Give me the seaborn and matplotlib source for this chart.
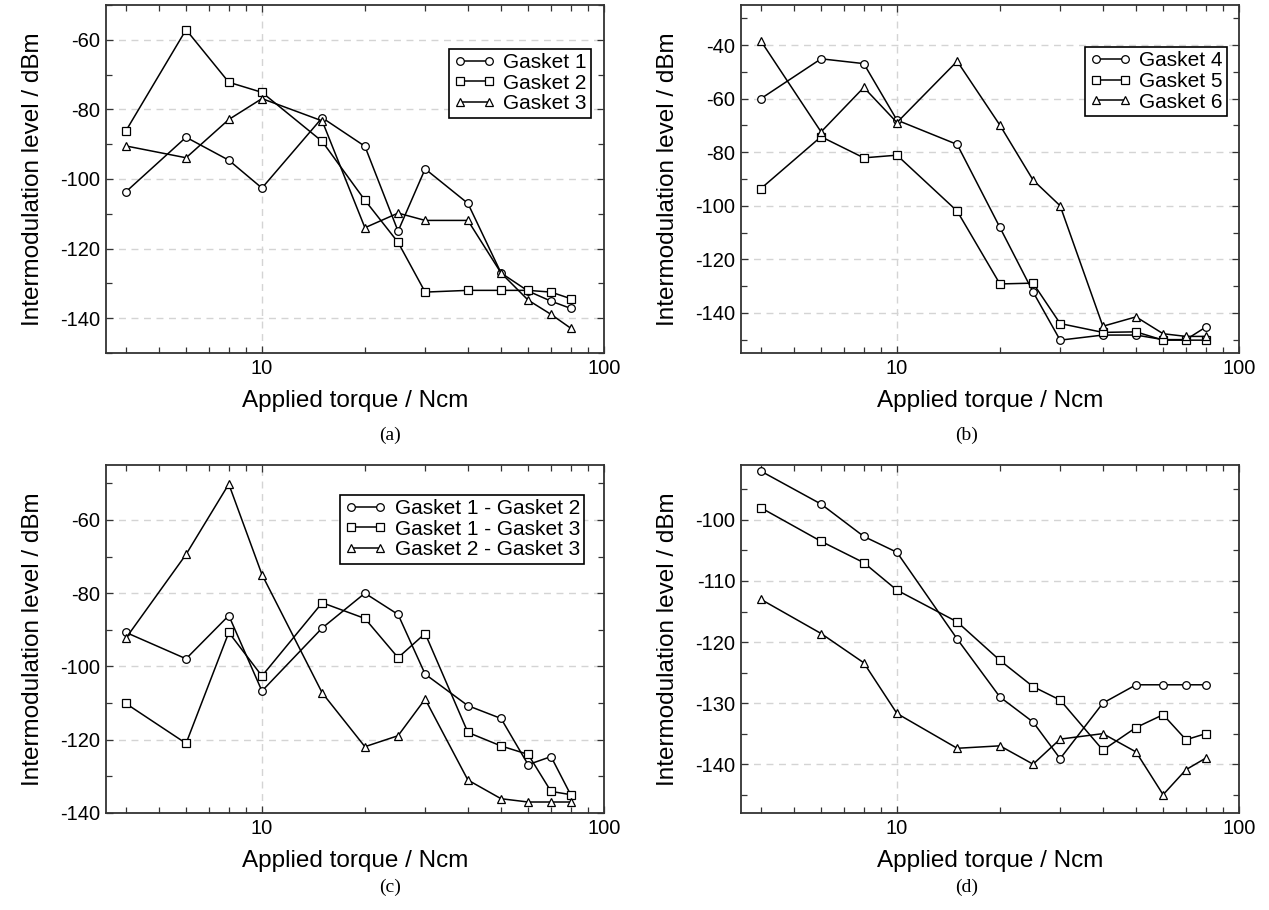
import numpy as np
import pandas as pd
import matplotlib
matplotlib.use('Agg')
import matplotlib.pyplot as plt
import seaborn as sns
from matplotlib.ticker import MultipleLocator, NullFormatter

# applied torque steps (Ncm)
torque = [4, 6, 8, 10, 15, 20, 25, 30, 40, 50, 60, 70, 80]

# (a) single gaskets 1-3
gasket1 = [-103.7, -88.0, -94.6, -102.6, -82.4, -90.6, -115.0, -97.1, -107.0, -127.0, -132.2, -135.1, -137.2]
gasket2 = [-86.2, -57.1, -72.2, -75.1, -89.2, -106.1, -118.2, -132.5, -132.0, -132.0, -132.0, -132.5, -134.4]
gasket3 = [-90.5, -93.9, -82.9, -76.9, -83.3, -114.0, -109.8, -111.9, -111.9, -127.0, -134.8, -138.9, -142.9]

# (b) single gaskets 4-6
gasket4 = [-60.0, -45.1, -46.9, -68.0, -77.1, -108.1, -132.2, -150.2, -148.3, -148.3, -150.0, -150.0, -145.3]
gasket5 = [-93.6, -74.2, -82.1, -81.1, -102.0, -129.2, -128.9, -144.0, -147.3, -147.1, -150.2, -150.2, -150.2]
gasket6 = [-38.4, -72.4, -55.8, -68.9, -46.0, -69.9, -90.4, -100.0, -145.0, -141.5, -147.8, -148.8, -148.8]

# (c) gasket pairs
pair12 = [-90.7, -97.9, -86.1, -106.7, -89.5, -80.0, -85.8, -102.1, -110.7, -114.2, -126.8, -124.6, -135.1]
pair13 = [-110.1, -121.0, -90.7, -102.6, -82.6, -86.9, -97.6, -91.0, -118.0, -121.7, -124.0, -134.1, -135.0]
pair23 = [-92.3, -69.4, -50.2, -74.9, -107.2, -121.9, -118.9, -108.9, -131.0, -136.1, -137.0, -137.0, -137.0]

# (d) no legend in the original
d_circle = [-92.0, -97.4, -102.7, -105.3, -119.5, -129.0, -133.1, -139.1, -130.0, -127.0, -127.0, -127.0, -127.0]
d_square = [-98.0, -103.5, -107.0, -111.5, -116.7, -123.0, -127.3, -129.5, -137.7, -134.0, -131.9, -136.0, -135.0]
d_triangle = [-113.0, -118.6, -123.4, -131.7, -137.4, -137.0, -140.0, -135.9, -135.0, -138.0, -145.0, -140.9, -139.0]

sns.set_style('ticks')
plt.rcParams['font.family'] = ['Liberation Sans', 'DejaVu Sans']
plt.rcParams['axes.unicode_minus'] = False
plt.rcParams['text.color'] = 'black'
plt.rcParams['axes.labelcolor'] = 'black'
plt.rcParams['xtick.labelcolor'] = 'black'
plt.rcParams['ytick.labelcolor'] = 'black'

fig = plt.figure(figsize=(12.69, 9.10), dpi=100)
W, H = 1269, 910


def make_axes(x0, x1, y0, y1):
    return fig.add_axes([x0 / W, 1 - y1 / H, (x1 - x0) / W, (y1 - y0) / H])


def draw_panel(ax, series, names, ylim, major, minor, anchor=None):
    df = pd.DataFrame({
        'torque': np.tile(torque, len(series)),
        'level': np.concatenate(series),
        'curve': np.repeat(names, len(torque)),
    })
    ax.set_xscale('log')
    sns.lineplot(data=df, x='torque', y='level', style='curve', style_order=names,
                 markers=['o', 's', '^'], dashes=False, color='black', ax=ax,
                 legend=False, errorbar=None, linewidth=1.1, markersize=5.5,
                 markerfacecolor='white', markeredgecolor='black', markeredgewidth=0.9)
    ax.set_xlim(3.5, 100)
    ax.set_ylim(*ylim)
    ax.set_xticks([10, 100], ['10', '100'])
    ax.set_xticks([4, 5, 6, 7, 8, 9, 20, 30, 40, 50, 60, 70, 80, 90], minor=True)
    ax.xaxis.set_minor_formatter(NullFormatter())
    ax.yaxis.set_major_locator(MultipleLocator(major))
    ax.yaxis.set_minor_locator(MultipleLocator(minor))
    ax.grid(True, which='major', ls=(0, (5, 4)), color='#d4d4d4', lw=1.0)
    ax.set_axisbelow(True)
    ax.tick_params(which='both', direction='in', top=True, right=True,
                   color='#333333', width=0.9, labelsize=14.5, labelcolor='black')
    ax.tick_params(which='major', length=5, pad=4)
    ax.tick_params(which='minor', length=4)
    for sp in ax.spines.values():
        sp.set_linewidth(1.3)
        sp.set_color('#333333')
    ax.set_xlabel('Applied torque / Ncm', fontsize=17.5, labelpad=9)
    ax.set_ylabel('Intermodulation level / dBm', fontsize=17.5, labelpad=12)
    if anchor is not None:
        leg = ax.legend(handles=ax.lines[:3], labels=names, loc='upper right',
                        bbox_to_anchor=anchor, borderaxespad=0, numpoints=2,
                        fancybox=False, edgecolor='black', framealpha=1,
                        fontsize=15, handlelength=2.0, handletextpad=0.4,
                        borderpad=0.2, labelspacing=0.08)
        leg.get_frame().set_linewidth(1.2)


ax_a = make_axes(106, 604, 5, 353)
draw_panel(ax_a, [gasket1, gasket2, gasket3], ['Gasket 1', 'Gasket 2', 'Gasket 3'],
           (-150, -50), 20, 10, anchor=(0.974, 0.874))

ax_b = make_axes(741, 1239, 5, 353)
draw_panel(ax_b, [gasket4, gasket5, gasket6], ['Gasket 4', 'Gasket 5', 'Gasket 6'],
           (-155, -25), 20, 10, anchor=(0.976, 0.879))

ax_c = make_axes(106, 604, 465, 813)
draw_panel(ax_c, [pair12, pair13, pair23],
           ['Gasket 1 - Gasket 2', 'Gasket 1 - Gasket 3', 'Gasket 2 - Gasket 3'],
           (-140, -45), 20, 10, anchor=(0.96, 0.914))

ax_d = make_axes(741, 1239, 465, 813)
draw_panel(ax_d, [d_circle, d_square, d_triangle], ['Series 1', 'Series 2', 'Series 3'],
           (-148, -91), 10, 5)

for label, x, y in [('(a)', 390, 435), ('(b)', 967, 435), ('(c)', 390, 887), ('(d)', 967, 887)]:
    fig.text(x / W, 1 - y / H, label, family=['Liberation Serif'], fontsize=14,
             ha='center', va='center')

fig.savefig('out.png', dpi=100)
